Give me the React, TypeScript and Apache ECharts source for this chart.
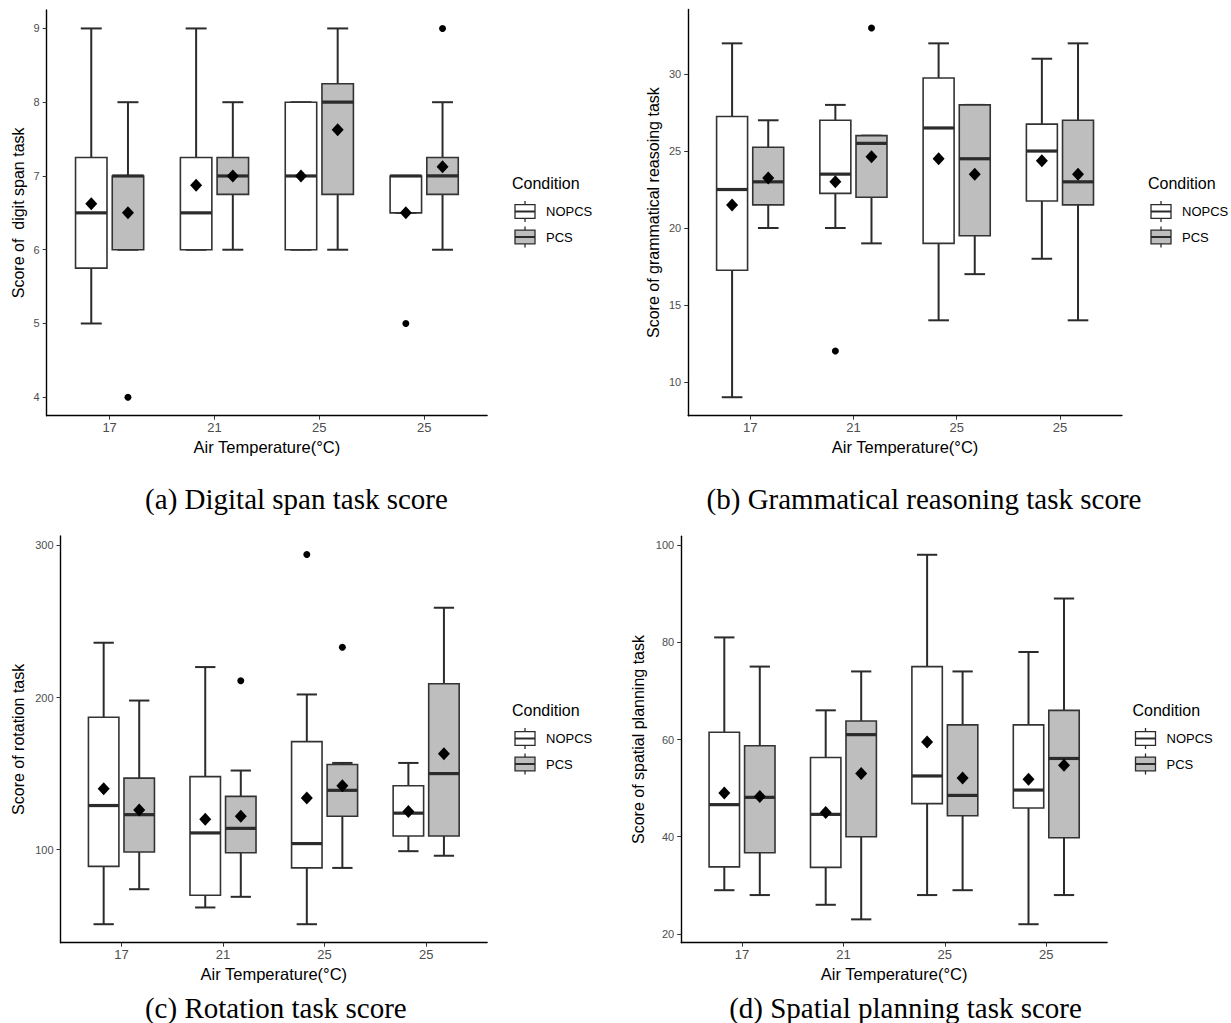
import React, { useEffect, useRef } from 'react';
import * as echarts from 'echarts';

// ---------- data ----------
const categories = ['17', '21', '25', '25'];
const conditions = ['NOPCS', 'PCS'];
const xTitle = 'Air Temperature(°C)';

// box stats: [lower whisker, Q1, median, Q3, upper whisker]
const digitNopcs = [[5, 5.75, 6.5, 7.25, 9], [6, 6, 6.5, 7.25, 9], [6, 6, 7, 8, 8], [6.5, 6.5, 7, 7, 7]];
const digitPcs = [[6, 6, 7, 7, 8], [6, 6.75, 7, 7.25, 8], [6, 6.75, 8, 8.25, 9], [6, 6.75, 7, 7.25, 8]];
const digitNopcsMean = [6.625, 6.875, 7, 6.5];
const digitPcsMean = [6.5, 7, 7.625, 7.125];
const digitNopcsOut = [[3, 5]]; // [group index, value]
const digitPcsOut = [[0, 4], [3, 9]];
const digitTicks = [4, 5, 6, 7, 8, 9];

const gramNopcs = [[9, 17.25, 22.5, 27.25, 32], [20, 22.25, 23.5, 27, 28], [14, 19, 26.5, 29.75, 32], [18, 21.75, 25, 26.75, 31]];
const gramPcs = [[20, 21.5, 23, 25.25, 27], [19, 22, 25.5, 26, 26], [17, 19.5, 24.5, 28, 28], [14, 21.5, 23, 27, 32]];
const gramNopcsMean = [21.5, 23, 24.5, 24.375];
const gramPcsMean = [23.25, 24.625, 23.5, 23.5];
const gramNopcsOut = [[1, 12]];
const gramPcsOut = [[1, 33]];
const gramTicks = [10, 15, 20, 25, 30];

const rotNopcs = [[51, 89, 129, 187, 236], [62, 70, 111, 148, 220], [51, 88, 104, 171, 202], [99, 109, 124, 142, 157]];
const rotPcs = [[74, 98.5, 123, 147, 198], [69, 98, 114, 135, 152], [88, 122, 139, 156, 157], [96, 109, 150, 209, 259]];
const rotNopcsMean = [140, 120, 134, 125];
const rotPcsMean = [126, 122, 142, 163];
const rotNopcsOut = [[2, 294]];
const rotPcsOut = [[1, 211], [2, 233]];
const rotTicks = [100, 200, 300];

const spaNopcs = [[29, 33.8, 46.6, 61.5, 81], [26, 33.7, 44.6, 56.3, 66], [28, 46.8, 52.5, 75, 98], [22, 45.9, 49.6, 63, 78]];
const spaPcs = [[28, 36.7, 48.1, 58.7, 75], [23, 40, 61, 63.8, 74], [29, 44.3, 48.5, 63, 74], [28, 39.8, 56.1, 66, 89]];
const spaNopcsMean = [49, 45, 59.5, 51.8];
const spaPcsMean = [48.3, 53, 52.1, 54.7];
const spaNopcsOut: number[][] = [];
const spaPcsOut: number[][] = [];
const spaTicks = [20, 40, 60, 80, 100];

const yTitles = ['Score of  digit span task', 'Score of grammatical reasoing task', 'Score of rotation task', 'Score of spatial planning task'];
const captions = ['(a) Digital span task score', '(b) Grammatical reasoning task score', '(c) Rotation task score', '(d) Spatial planning task score'];

// ---------- layout ----------
const panels = [
  { nop: digitNopcs, pcs: digitPcs, nopMean: digitNopcsMean, pcsMean: digitPcsMean, nopOut: digitNopcsOut, pcsOut: digitPcsOut, ticks: digitTicks, yMin: 3.75, yMax: 9.25 },
  { nop: gramNopcs, pcs: gramPcs, nopMean: gramNopcsMean, pcsMean: gramPcsMean, nopOut: gramNopcsOut, pcsOut: gramPcsOut, ticks: gramTicks, yMin: 7.8, yMax: 34.2 },
  { nop: rotNopcs, pcs: rotPcs, nopMean: rotNopcsMean, pcsMean: rotPcsMean, nopOut: rotNopcsOut, pcsOut: rotPcsOut, ticks: rotTicks, yMin: 38.85, yMax: 306.15 },
  { nop: spaNopcs, pcs: spaPcs, nopMean: spaNopcsMean, pcsMean: spaPcsMean, nopOut: spaNopcsOut, pcsOut: spaPcsOut, ticks: spaTicks, yMin: 18.2, yMax: 101.8 },
];

const grids = [
  { left: 46.7, top: 10, width: 440.4, height: 405.7 },
  { left: 688.2, top: 9.5, width: 433.7, height: 406.2 },
  { left: 60.5, top: 536, width: 426.6, height: 406.7 },
  { left: 681.2, top: 536.3, width: 425.9, height: 406.4 },
];
const yNameGaps = [20, 27, 34, 35];
const legendPos = [[512, 183.7], [1148, 183.7], [512, 710.7], [1132.5, 710.7]];
const captionPos = [[296.5, 499], [924, 499], [275.8, 1008], [905.5, 1008]];

const DODGE = 0.175;
const BOX_W = 0.3;
const CAP_W = 0.2;
const STROKE = '#2b2b2b';
const FILLS = ['#ffffff', '#bebebe'];
const SANS = 'Liberation Sans, Arial, sans-serif';
const SERIF = 'Liberation Serif, Times New Roman, serif';

function makeRenderItem(fill: string) {
  return (params: any, api: any) => {
    const x = api.value(0);
    const pLo = api.coord([x, api.value(1)]);
    const pQ1 = api.coord([x, api.value(2)]);
    const pMed = api.coord([x, api.value(3)]);
    const pQ3 = api.coord([x, api.value(4)]);
    const pHi = api.coord([x, api.value(5)]);
    const bw = api.size([BOX_W, 0])[0];
    const cw = api.size([CAP_W, 0])[0];
    const cx = pLo[0];
    const ls = { stroke: STROKE, lineWidth: 2 };
    return {
      type: 'group',
      children: [
        { type: 'line', shape: { x1: cx, y1: pHi[1], x2: cx, y2: pLo[1] }, style: ls },
        { type: 'line', shape: { x1: cx - cw / 2, y1: pHi[1], x2: cx + cw / 2, y2: pHi[1] }, style: ls },
        { type: 'line', shape: { x1: cx - cw / 2, y1: pLo[1], x2: cx + cw / 2, y2: pLo[1] }, style: ls },
        { type: 'rect', shape: { x: cx - bw / 2, y: pQ3[1], width: bw, height: pQ1[1] - pQ3[1] }, style: { fill, stroke: '#333333', lineWidth: 1.6 } },
        { type: 'line', shape: { x1: cx - bw / 2, y1: pMed[1], x2: cx + bw / 2, y2: pMed[1] }, style: { stroke: STROKE, lineWidth: 3.2 } },
      ],
    };
  };
}

function buildOption() {
  const xAxis: any[] = [];
  const yAxis: any[] = [];
  const series: any[] = [];
  const graphic: any[] = [];

  panels.forEach((p, i) => {
    xAxis.push({
      gridIndex: i, type: 'value', min: 0.4, max: 4.6,
      name: xTitle, nameLocation: 'middle', nameGap: 23,
      nameTextStyle: { fontSize: 16.5, color: '#000', fontFamily: SANS },
      axisLine: { show: true, onZero: false, lineStyle: { color: '#000', width: 1.4 } },
      axisTick: { show: true, customValues: [1, 2, 3, 4], length: 4, lineStyle: { color: '#333', width: 1 } },
      axisLabel: { show: true, customValues: [1, 2, 3, 4], formatter: (v: number) => categories[Math.round(v) - 1], fontSize: 13, color: '#4d4d4d', margin: 5, fontFamily: SANS },
      splitLine: { show: false },
    });
    yAxis.push({
      gridIndex: i, type: 'value', min: p.yMin, max: p.yMax,
      name: yTitles[i], nameLocation: 'middle', nameGap: yNameGaps[i],
      nameTextStyle: { fontSize: 16, color: '#000', fontFamily: SANS },
      axisLine: { show: true, onZero: false, lineStyle: { color: '#000', width: 1.4 } },
      axisTick: { show: true, customValues: p.ticks, length: 4, lineStyle: { color: '#333', width: 1 } },
      axisLabel: { show: true, customValues: p.ticks, fontSize: 11, color: '#4d4d4d', margin: 7, fontFamily: SANS },
      splitLine: { show: false },
    });

    const groups = [
      { name: conditions[0], box: p.nop, mean: p.nopMean, out: p.nopOut, off: -DODGE, fill: FILLS[0] },
      { name: conditions[1], box: p.pcs, mean: p.pcsMean, out: p.pcsOut, off: DODGE, fill: FILLS[1] },
    ];
    groups.forEach((g) => {
      series.push({
        type: 'custom', name: g.name, xAxisIndex: i, yAxisIndex: i,
        renderItem: makeRenderItem(g.fill),
        encode: { x: 0, y: [1, 2, 3, 4, 5] },
        data: g.box.map((d, k) => [k + 1 + g.off, ...d]),
        silent: true,
      });
    });
    groups.forEach((g) => {
      series.push({
        type: 'scatter', xAxisIndex: i, yAxisIndex: i, symbol: 'circle', symbolSize: 7,
        itemStyle: { color: '#000', opacity: 1 }, silent: true,
        data: g.out.map(([k, v]) => [k + 1 + g.off, v]),
      });
      series.push({
        type: 'scatter', xAxisIndex: i, yAxisIndex: i, symbol: 'diamond', symbolSize: [12, 13],
        itemStyle: { color: '#000', opacity: 1 }, silent: true, z: 5,
        data: g.mean.map((v, k) => [k + 1 + g.off, v]),
      });
    });

    // legend
    const [lx, ly] = legendPos[i];
    graphic.push({
      type: 'text', x: lx, y: ly,
      style: { text: 'Condition', fill: '#000', fontSize: 16, fontFamily: SANS, align: 'left', verticalAlign: 'middle', textAlign: 'left', textVerticalAlign: 'middle' },
    });
    conditions.forEach((c, k) => {
      const cy = ly + 27.8 + 25.5 * k;
      const kx = lx + 3;
      graphic.push({ type: 'line', shape: { x1: kx + 10, y1: cy - 10.5, x2: kx + 10, y2: cy + 10.5 }, style: { stroke: STROKE, lineWidth: 1.3 } });
      graphic.push({ type: 'rect', shape: { x: kx, y: cy - 6.8, width: 20, height: 13.6 }, style: { fill: FILLS[k], stroke: STROKE, lineWidth: 1.3 } });
      graphic.push({ type: 'line', shape: { x1: kx, y1: cy, x2: kx + 20, y2: cy }, style: { stroke: STROKE, lineWidth: 2 } });
      graphic.push({
        type: 'text', x: lx + 34, y: cy,
        style: { text: c, fill: '#000', fontSize: 13, fontFamily: SANS, align: 'left', verticalAlign: 'middle', textAlign: 'left', textVerticalAlign: 'middle' },
      });
    });

    // caption
    const [cx, cy] = captionPos[i];
    graphic.push({
      type: 'text', x: cx, y: cy,
      style: { text: captions[i], fill: '#000', fontSize: 29, fontFamily: SERIF, align: 'center', verticalAlign: 'middle', textAlign: 'center', textVerticalAlign: 'middle' },
    });
  });

  return {
    animation: false,
    backgroundColor: '#ffffff',
    textStyle: { fontFamily: SANS },
    grid: grids.map((g) => ({ ...g, containLabel: false, outerBoundsMode: 'none' })),
    xAxis,
    yAxis,
    series,
    graphic,
  };
}

export default function App() {
  const ref = useRef<HTMLDivElement>(null);
  useEffect(() => {
    if (!ref.current) return;
    const chart = echarts.init(ref.current, undefined, { renderer: 'svg' });
    chart.setOption(buildOption() as any);
    return () => chart.dispose();
  }, []);
  return (
    <div
      ref={ref}
      style={{ position: 'absolute', left: 0, top: 0, width: 1231, height: 1023, background: '#fff' }}
    />
  );
}
